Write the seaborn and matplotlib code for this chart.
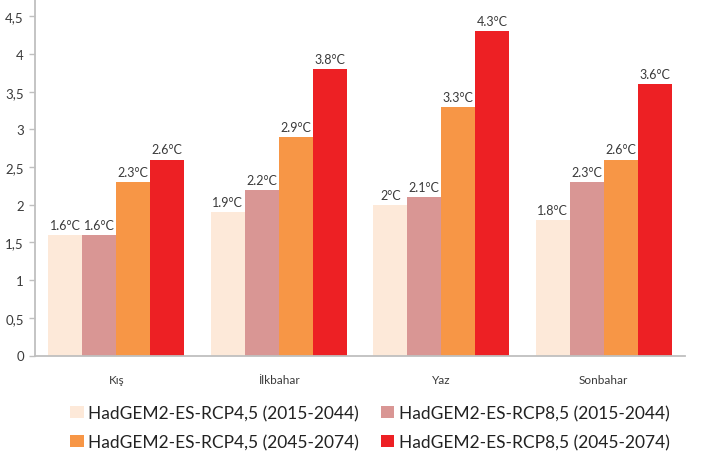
import matplotlib
matplotlib.use("Agg")
import matplotlib.pyplot as plt
import seaborn as sns
import pandas as pd
from matplotlib.patches import Patch

seasons = ["Kış", "İlkbahar", "Yaz", "Sonbahar"]
series = [
    "HadGEM2-ES-RCP4,5 (2015-2044)",
    "HadGEM2-ES-RCP8,5 (2015-2044)",
    "HadGEM2-ES-RCP4,5 (2045-2074)",
    "HadGEM2-ES-RCP8,5 (2045-2074)",
]
rcp45_early = [1.6, 1.9, 2.0, 1.8]
rcp85_early = [1.6, 2.2, 2.1, 2.3]
rcp45_late = [2.3, 2.9, 3.3, 2.6]
rcp85_late = [2.6, 3.8, 4.3, 3.6]
y_ticks = [0, 0.5, 1, 1.5, 2, 2.5, 3, 3.5, 4, 4.5]
y_tick_labels = ["0", "0,5", "1", "1,5", "2", "2,5", "3", "3,5", "4", "4,5"]

colors = ["#FDE9D9", "#D99694", "#F79646", "#ED2024"]

rows = []
for name, vals in zip(series, [rcp45_early, rcp85_early, rcp45_late, rcp85_late]):
    for s, v in zip(seasons, vals):
        rows.append({"Mevsim": s, "Senaryo": name, "Değer": v})
df = pd.DataFrame(rows)

sns.set_theme(style="white")
plt.rcParams["font.family"] = ["Lato", "DejaVu Sans"]

fig = plt.figure(figsize=(7.07, 4.60), dpi=100)
ax = fig.add_axes([35 / 707, (460 - 356.5) / 460, 650 / 707, 356.5 / 460])

sns.barplot(data=df, x="Mevsim", y="Değer", hue="Senaryo", order=seasons,
            hue_order=series, palette=colors, width=0.837, gap=0,
            saturation=1, errorbar=None, legend=False, ax=ax,
            edgecolor="none", linewidth=0)

for cont in ax.containers:
    labels = [f"{b.get_height():g}°C" for b in cont]
    ax.bar_label(cont, labels=labels, padding=3, fontsize=9, color="#3A3A3A")

ax.set_xlim(-0.5, 3.5)
ax.set_ylim(0, 4.73)
ax.set_yticks(y_ticks)
ax.set_yticklabels(y_tick_labels)
ax.set_xlabel("")
ax.set_ylabel("")
ax.tick_params(axis="y", length=4, width=1, color="#BFBFBF", labelsize=9.5,
               labelcolor="#3A3A3A", pad=4, left=True)
ax.tick_params(axis="x", length=0, labelsize=8.5, labelcolor="#3A3A3A", pad=13)
for side in ["top", "right"]:
    ax.spines[side].set_visible(False)
for side in ["left", "bottom"]:
    ax.spines[side].set_color("#BFBFBF")
    ax.spines[side].set_linewidth(1.3)

# legend filled row by row: early period on the first row, late period below
order = [0, 2, 1, 3]
handles = [Patch(facecolor=colors[i], edgecolor="none") for i in order]
fig.legend(handles, [series[i] for i in order], loc="center", ncol=2,
           frameon=False,
           bbox_to_anchor=((79 + 661) / 2 / 707, 1 - 428.5 / 460),
           fontsize=12.5, handlelength=0.75, handleheight=0.75,
           handletextpad=0.25, columnspacing=1.3, labelspacing=0.75,
           labelcolor="#222222")

fig.savefig("out.png", dpi=100)
